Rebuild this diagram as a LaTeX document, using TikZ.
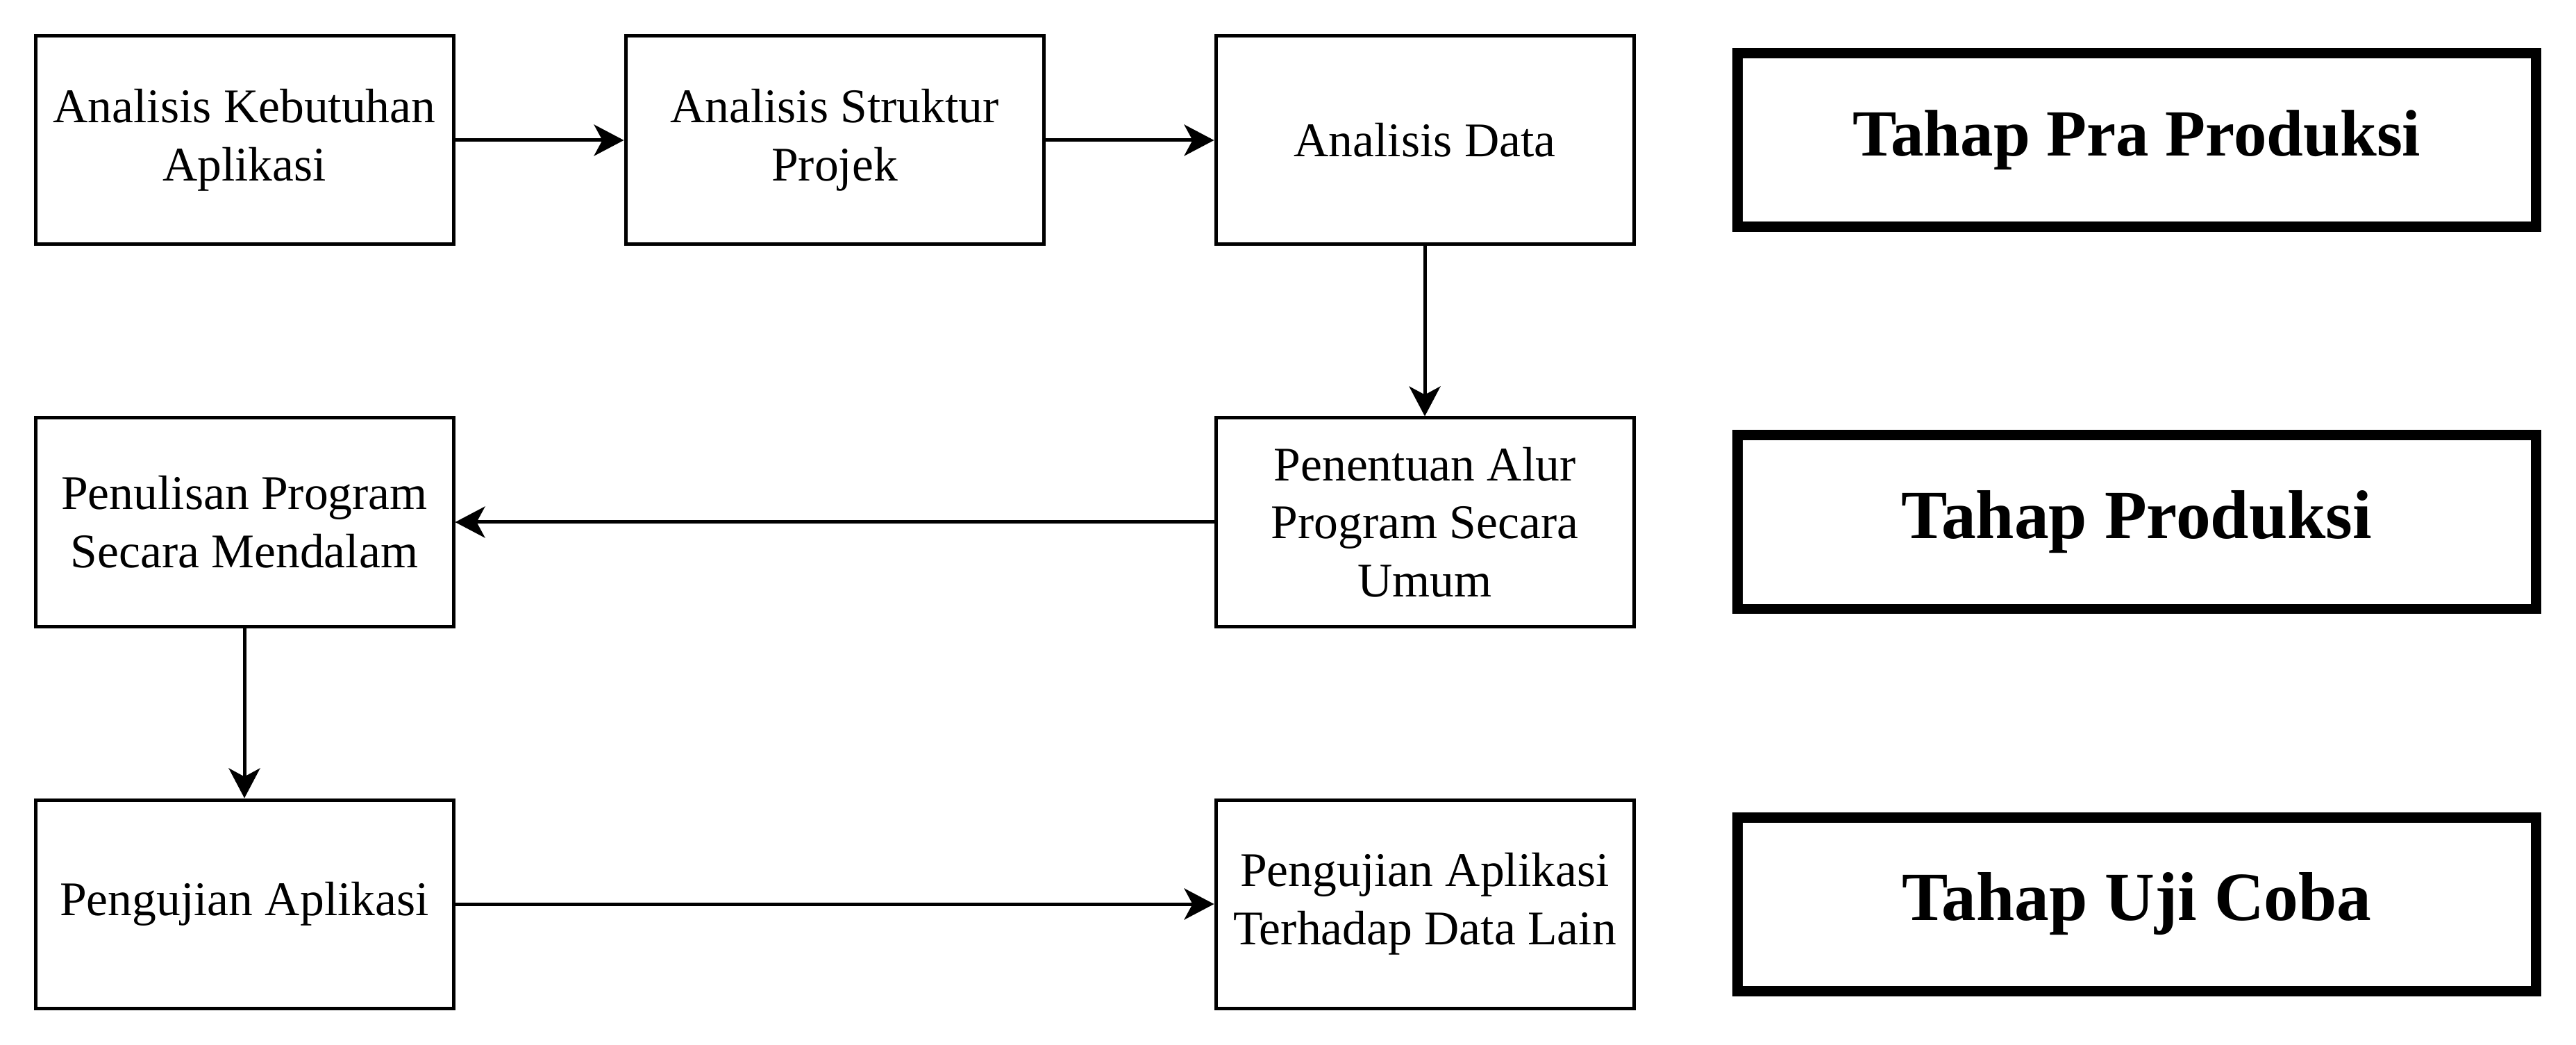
\documentclass[tikz,border=0pt]{standalone}
\usepackage{fontspec}
\setmainfont{Liberation Serif}
\usetikzlibrary{arrows.meta}
\tikzset{
  stepbox/.style={draw=black, line width=0.05cm, fill=white, minimum width=6.02cm, minimum height=3.0cm, inner sep=0pt, align=center, font=\fontsize{19.8pt}{23.8pt}\selectfont},
  phasebox/.style={draw=black, line width=0.15cm, fill=white, minimum width=11.5cm, minimum height=2.5cm, inner sep=0pt, align=center, font=\fontsize{28.3pt}{34pt}\selectfont\bfseries},
  flow/.style={line width=0.05cm, -{Stealth[length=0.43cm, width=0.45cm, inset=0.12cm]}}
}
\begin{document}
\begin{tikzpicture}
\useasboundingbox[fill=white] (0,0) rectangle (37.1,-15.05);
\node[stepbox] (a1) at (3.52,-2.02) {Analisis Kebutuhan\\Aplikasi};
\node[stepbox] (a2) at (12.02,-2.02) {Analisis Struktur\\Projek};
\node[stepbox] (a3) at (20.52,-2.02) {Analisis Data};
\node[stepbox] (b2) at (20.52,-7.52) {Penentuan Alur\\Program Secara\\Umum};
\node[stepbox] (b1) at (3.52,-7.52) {Penulisan Program\\Secara Mendalam};
\node[stepbox] (c1) at (3.52,-13.02) {Pengujian Aplikasi};
\node[stepbox] (c2) at (20.52,-13.02) {Pengujian Aplikasi\\Terhadap Data Lain};
\node[phasebox, font=\fontsize{27pt}{32pt}\selectfont\bfseries] (p1) at (30.775,-2.02) {Tahap Pra Produksi};
\node[phasebox] (p2) at (30.775,-7.52) {Tahap Produksi};
\node[phasebox] (p3) at (30.775,-13.02) {Tahap Uji Coba};
\draw[flow] (a1) -- (a2);
\draw[flow] (a2) -- (a3);
\draw[flow] (a3) -- (b2);
\draw[flow] (b2) -- (b1);
\draw[flow] (b1) -- (c1);
\draw[flow] (c1) -- (c2);
\end{tikzpicture}
\end{document}
